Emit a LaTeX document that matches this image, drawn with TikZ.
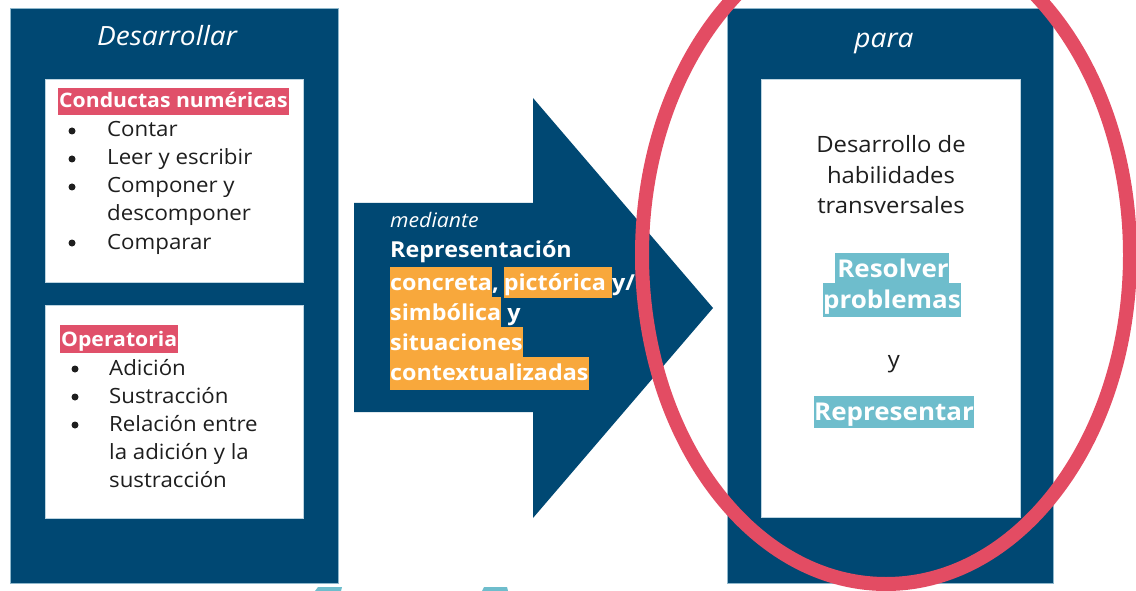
\documentclass[tikz,border=0pt]{standalone}
\usepackage{fontspec}
\setmainfont{Open Sans}[FakeStretch=1.06]
\definecolor{navy}{HTML}{004873}
\definecolor{navyedge}{HTML}{8FB8CC}
\definecolor{hlred}{HTML}{E0506A}
\definecolor{hlorange}{HTML}{F8A83C}
\definecolor{hlteal}{HTML}{6EBDCC}
\definecolor{ringred}{HTML}{E34C63}
\definecolor{ink}{HTML}{1E1E1E}
\newcommand\hlmark[4]{{\setlength{\fboxsep}{0pt}\colorbox{#3}{\rule[-#1]{0pt}{#2}#4}}}
\tikzset{
  navybox/.style={fill=navy, draw=navyedge, line width=0.8pt, anchor=north west, inner sep=0pt},
  whitebox/.style={fill=white, draw=navyedge!60, line width=0.6pt, anchor=north west, inner sep=0pt},
  listtxt/.style={anchor=base west, inner sep=0pt, text=ink, font=\fontsize{21}{24}\selectfont},
  bul/.style={circle, fill=ink, minimum size=7pt, inner sep=0pt},
  hdr/.style={anchor=base west, inner sep=0pt, text=white, font=\bfseries\fontsize{20}{24}\selectfont},
  arrtxt/.style={anchor=base west, inner sep=0pt, text=white, font=\bfseries\fontsize{22}{25}\selectfont},
  rtxt/.style={anchor=base, inner sep=0pt, text=ink, font=\fontsize{22.5}{25}\selectfont},
  rbold/.style={anchor=base, inner sep=0pt, text=white, font=\bfseries\fontsize{24.5}{26}\selectfont},
  ttl/.style={anchor=base, inner sep=0pt, text=white, font=\itshape\fontsize{26.5}{28}\selectfont},
}
\begin{document}
\begin{tikzpicture}[x=1pt,y=-1pt]
\useasboundingbox (0,0) rectangle (1136,591);
% left panel
\node[navybox, minimum width=328pt, minimum height=575pt] (leftbox) at (10,8) {};
\node[ttl] (desarrollar) at (167,46) {Desarrollar};
\node[whitebox, minimum width=258pt, minimum height=203pt] (box1) at (45,79) {};
\node[whitebox, minimum width=258pt, minimum height=213pt] (box2) at (45,305) {};
\node[hdr] (conductas) at (58,108) {\hlmark{7pt}{27pt}{hlred}{\hspace{1pt}Conductas numéricas\hspace{1pt}}};
\node[bul] (b1) at (72,131) {};
\node[listtxt] (l1) at (107,137) {Contar};
\node[bul] (b2) at (72,159) {};
\node[listtxt] (l2) at (107,165) {Leer y escribir};
\node[bul] (b3) at (72,187) {};
\node[listtxt] (l3) at (107,193) {Componer y};
\node[listtxt] (l3b) at (107,221) {descomponer};
\node[bul] (b4) at (72,243) {};
\node[listtxt] (l4) at (107,249) {Comparar};
\node[hdr] (operatoria) at (60,346) {\hlmark{7pt}{28pt}{hlred}{\hspace{1pt}Operatoria\hspace{1pt}}};
\node[bul] (o1b) at (75,369) {};
\node[listtxt] (o1) at (109,375) {Adición};
\node[bul] (o2b) at (75,397) {};
\node[listtxt] (o2) at (109,403) {Sustracción};
\node[bul] (o3b) at (75,425) {};
\node[listtxt] (o3) at (109,431) {Relación entre};
\node[listtxt] (o3c) at (109,459) {la adición y la};
\node[listtxt] (o3d) at (109,487) {sustracción};
% arrow
\fill[navy] (354,203) -- (533,203) -- (533,98) -- (713,308) -- (533,518) -- (533,412) -- (354,412) -- cycle;
\node[anchor=base west, inner sep=0pt, text=white, font=\itshape\fontsize{20}{22}\selectfont] (mediante) at (390,228) {mediante};
\node[arrtxt] (repr) at (390,258) {Representación};
\node[arrtxt] (a1) at (390,290) {\hlmark{8pt}{31pt}{hlorange}{concreta},\hspace{5pt}\hlmark{8pt}{31pt}{hlorange}{pictórica\ }y/};
\node[arrtxt] (a2) at (390,320) {\hlmark{7pt}{30pt}{hlorange}{simbólica}\ y};
\node[arrtxt] (a3) at (390,350) {\hlmark{8pt}{31pt}{hlorange}{situaciones}};
\node[arrtxt] (a4) at (390,380) {\hlmark{10pt}{33pt}{hlorange}{contextualizadas}};
% right panel
\node[navybox, minimum width=326pt, minimum height=575pt] (rightbox) at (727,8) {};
\node[ttl] (para) at (884,48) {para};
\node[whitebox, minimum width=259pt, minimum height=438pt] (box3) at (761,79) {};
\node[rtxt] (r1) at (891,153) {Desarrollo de};
\node[rtxt] (r2) at (891,184) {habilidades};
\node[rtxt] (r3) at (891,214) {transversales};
\node[rbold] (r4) at (892,277) {\hlmark{6pt}{30pt}{hlteal}{\hspace{2pt}Resolver}};
\node[rbold] (r5) at (892,308) {\hlmark{9pt}{34pt}{hlteal}{problemas}};
\node[rtxt] (r6) at (894,367) {y};
\node[rbold] (r7) at (894,420) {\hlmark{8pt}{32pt}{hlteal}{Representar}};
% cut-off marks at bottom edge
\fill[hlteal] (315,591) -- (318,587) -- (342,587) -- (341,591) -- cycle;
\fill[hlteal] (482,591) -- (484,587) -- (507,587) -- (508,591) -- cycle;
% red ring
\draw[ringred, line width=14pt] (886,255) ellipse [x radius=244pt, y radius=329pt];
\end{tikzpicture}
\end{document}
